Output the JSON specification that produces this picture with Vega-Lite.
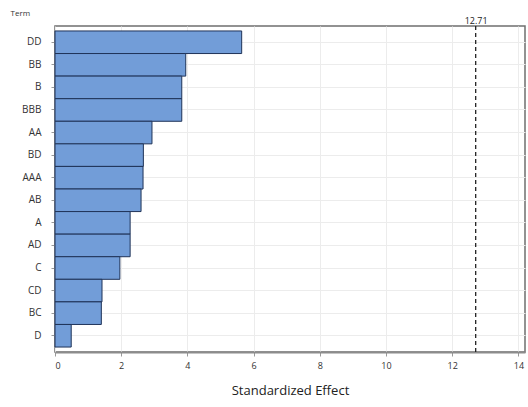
{
  "$schema": "https://vega.github.io/schema/vega-lite/v6.json",
  "width": 470,
  "height": 326,
  "autosize": {"type": "none"},
  "padding": {"left": 55, "top": 26, "right": 3, "bottom": 55},
  "background": "white",
  "config": {
    "view": {"stroke": "#6f6f6f", "strokeWidth": 1.5},
    "font": "Open Sans"
  },
  "data": {
    "values": [
      {"term": "DD", "effect": 5.64},
      {"term": "BB", "effect": 3.95},
      {"term": "B", "effect": 3.83},
      {"term": "BBB", "effect": 3.83},
      {"term": "AA", "effect": 2.93},
      {"term": "BD", "effect": 2.67},
      {"term": "AAA", "effect": 2.66},
      {"term": "AB", "effect": 2.6},
      {"term": "A", "effect": 2.27},
      {"term": "AD", "effect": 2.27},
      {"term": "C", "effect": 1.96},
      {"term": "CD", "effect": 1.42},
      {"term": "BC", "effect": 1.4},
      {"term": "D", "effect": 0.49}
    ]
  },
  "layer": [
    {
      "mark": {"type": "bar", "fill": "#729dd8", "stroke": "#1f3358", "strokeWidth": 1},
      "encoding": {
        "y": {
          "field": "term", "type": "nominal", "sort": null,
          "scale": {"paddingInner": 0, "paddingOuter": 0.22},
          "axis": {
            "title": "Term", "titleAngle": 0, "titleAlign": "left", "titleBaseline": "middle",
            "titleX": -45, "titleY": -13, "titleFontSize": 8, "titleFontWeight": "normal", "titleColor": "#333",
            "labelFontSize": 10, "labelColor": "#333", "labelPadding": 10,
            "tickColor": "#999", "tickSize": 4, "domain": false,
            "grid": true, "gridColor": "#ececec", "gridWidth": 1
          }
        },
        "x": {
          "field": "effect", "type": "quantitative",
          "scale": {"domain": [0, 14.2], "nice": false},
          "axis": {
            "title": "Standardized Effect", "titleFontSize": 13, "titleFontWeight": "normal", "titleColor": "#222",
            "titlePadding": 14,
            "values": [0, 2, 4, 6, 8, 10, 12, 14], "labelFontSize": 9, "labelColor": "#333", "labelPadding": 5,
            "tickColor": "#999", "tickSize": 4, "domainColor": "#8c8c8c", "domainWidth": 2,
            "grid": true, "gridColor": "#ececec", "gridWidth": 1
          }
        }
      }
    },
    {
      "data": {"values": [{"crit": 12.71}]},
      "mark": {"type": "rule", "color": "#222", "strokeDash": [4, 3], "strokeWidth": 1.3},
      "encoding": {
        "x": {
          "field": "crit", "type": "quantitative",
          "axis": {
            "orient": "top", "title": null, "values": [12.71], "format": ".2f",
            "labelFontSize": 9, "labelColor": "#222", "labelPadding": 1,
            "ticks": false, "domain": false, "grid": false
          }
        }
      }
    }
  ],
  "resolve": {"axis": {"x": "independent"}}
}
